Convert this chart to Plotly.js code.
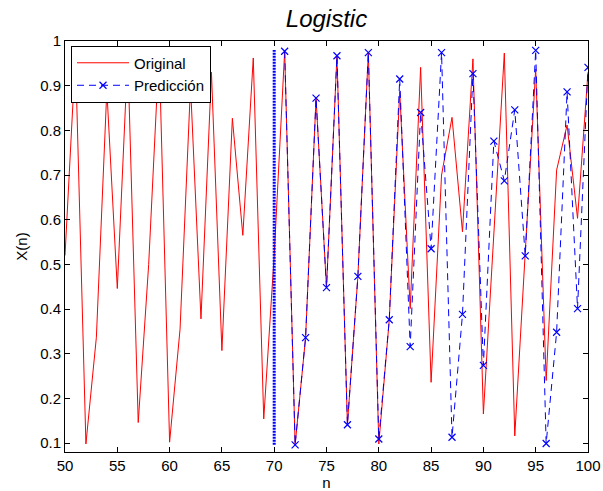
<!DOCTYPE html>
<html>
<head>
<meta charset="utf-8">
<script src="https://cdn.plot.ly/plotly-3.0.1.min.js"></script>
<style>
  html, body { margin: 0; padding: 0; background: #fff; }
  #chart { width: 603px; height: 491px; }
</style>
</head>
<body>
<div id="chart"></div>
<script>
// Logistic map series, n = 50..100
const nOriginal = [50,51,52,53,54,55,56,57,58,59,60,61,62,63,64,65,66,67,68,69,70,
  71,72,73,74,75,76,77,78,79,80,81,82,83,84,85,86,87,88,89,90,
  91,92,93,94,95,96,97,98,99,100];
const xOriginal = [0.52,0.97,0.098,0.337,0.89,0.446,0.97,0.146,0.50,0.98,0.102,
  0.355,0.90,0.378,0.93,0.307,0.827,0.565,0.962,0.154,0.52,
  0.977,0.096,0.336,0.872,0.448,0.967,0.141,0.473,0.974,0.098,
  0.376,0.887,0.401,0.941,0.236,0.700,0.829,0.573,0.960,0.165,
  0.56,0.973,0.116,0.52,0.937,0.240,0.711,0.812,0.603,0.93];

// Predicted values from n = 71 onward
const nPred = [71,72,73,74,75,76,77,78,79,80,81,82,83,84,85,
  86,87,88,89,90,91,92,93,94,95,96,97,98,99,100];
const xPred = [0.977,0.096,0.336,0.872,0.448,0.967,0.141,0.473,0.974,0.109,
  0.376,0.915,0.316,0.840,0.535,0.974,0.113,0.388,0.927,0.274,
  0.776,0.687,0.846,0.519,0.979,0.099,0.348,0.886,0.401,0.941];

// Start of the prediction window
const nSplit = 70;

const xTicks = [50,55,60,65,70,75,80,85,90,95,100];
const yTicks = [0.1,0.2,0.3,0.4,0.5,0.6,0.7,0.8,0.9,1];
const yTickText = ['0.1','0.2','0.3','0.4','0.5','0.6','0.7','0.8','0.9','1'];

const FONT = 'Liberation Sans, Arial, sans-serif';

const allVals = xOriginal.concat(xPred);
const splitLow = Math.min.apply(null, allVals);
const splitHigh = Math.max.apply(null, xOriginal);

const traces = [
  {
    x: nOriginal, y: xOriginal, name: 'Original',
    type: 'scatter', mode: 'lines',
    line: { color: '#ff0000', width: 1 }
  },
  {
    x: nPred, y: xPred, name: 'Predicción',
    type: 'scatter', mode: 'lines+markers',
    line: { color: '#0000ff', width: 1, dash: '7px,5px' },
    marker: { symbol: 'x-thin-open', size: 7, color: '#0000ff', line: { color: '#0000ff', width: 1.2 } }
  },
  {
    x: [nSplit, nSplit], y: [splitLow, splitHigh],
    type: 'scatter', mode: 'lines', showlegend: false, hoverinfo: 'skip',
    line: { color: '#0000ff', width: 3, dash: '2px,1px' }
  }
];

const axisCommon = {
  showgrid: false, zeroline: false,
  showline: true, linecolor: '#000', linewidth: 1,
  mirror: 'allticks', ticks: 'inside', ticklen: 5, tickcolor: '#000', tickwidth: 1,
  tickfont: { family: FONT, size: 15, color: '#000' }
};

const layout = {
  width: 603, height: 491,
  margin: { l: 65, r: 15, t: 41, b: 39 },
  paper_bgcolor: '#fff', plot_bgcolor: '#fff',
  title: {
    text: '<i>Logistic</i>',
    font: { family: FONT, size: 24, color: '#000' },
    x: 0.5415, xanchor: 'center', y: 0.962, yanchor: 'middle'
  },
  xaxis: Object.assign({}, axisCommon, {
    range: [50, 100], tickvals: xTicks,
    title: { text: 'n', font: { family: FONT, size: 15, color: '#000' }, standoff: 8 }
  }),
  yaxis: Object.assign({}, axisCommon, {
    range: [0.08, 1], tickvals: yTicks, ticktext: yTickText,
    title: { text: 'X(n)', font: { family: FONT, size: 15, color: '#000' }, standoff: 8 }
  }),
  legend: {
    x: 0.0115, y: 0.989, xanchor: 'left', yanchor: 'top',
    bgcolor: '#fff', bordercolor: '#000', borderwidth: 1,
    font: { family: FONT, size: 15, color: '#000' },
    tracegroupgap: 0, itemwidth: 52
  },
  showlegend: true
};

Plotly.newPlot('chart', traces, layout, { staticPlot: true, displayModeBar: false });
</script>
</body>
</html>
